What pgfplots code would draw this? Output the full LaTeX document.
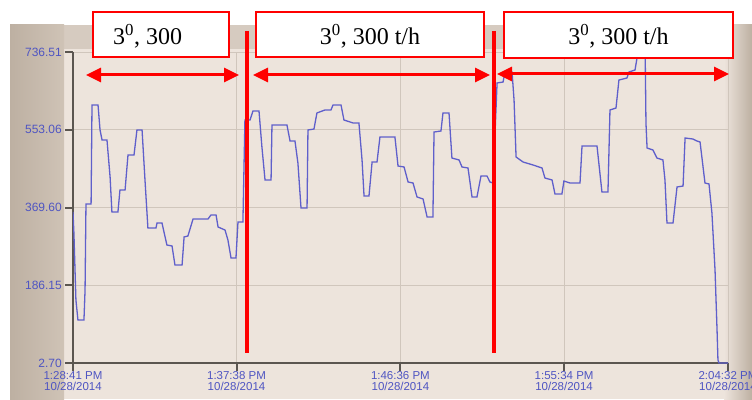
\documentclass[border=0pt]{standalone}
\usepackage{pgfplots}
\pgfplotsset{compat=1.18}
\usepackage{pgfplotstable}
\usepackage{fontspec}
\setmainfont{Liberation Serif}
\newfontfamily\screenfont{Liberation Sans}
\usetikzlibrary{arrows.meta}

\definecolor{photo}{HTML}{DDD2C7}
\definecolor{photodark}{HTML}{BDB0A2}
\definecolor{photomid}{HTML}{CFC3B6}
\definecolor{plotbg}{HTML}{EDE4DC}
\definecolor{topband}{HTML}{D6CBC0}
\definecolor{gridc}{HTML}{D0C6BC}
\definecolor{axisc}{HTML}{5B5650}
\definecolor{ticktext}{HTML}{4F55C2}
\definecolor{trace}{HTML}{5F5FCB}
\definecolor{annot}{HTML}{FF0000}

% flow trace: minutes after 1:28:41 PM, value
\pgfplotstableread{
t v
0.00 359.0
0.05 309.4
0.16 151.4
0.27 104.2
0.60 104.2
0.66 174.9
0.71 377.9
0.99 377.9
1.04 611.4
1.37 611.4
1.48 552.5
1.59 528.9
1.86 528.9
2.03 441.6
2.13 359.0
2.46 359.0
2.57 410.9
2.85 410.9
3.01 493.5
3.34 493.5
3.50 552.5
3.78 552.5
3.94 434.5
4.10 321.2
4.54 321.2
4.60 333.0
4.87 333.0
4.98 311.8
5.14 281.1
5.42 278.8
5.58 233.9
5.97 233.9
6.08 300.0
6.29 302.4
6.57 342.5
7.39 342.5
7.55 351.9
7.83 351.9
7.94 323.6
8.32 316.5
8.48 292.9
8.65 250.4
8.92 250.4
9.03 335.4
9.30 335.4
9.41 576.1
9.69 576.1
9.85 597.3
10.18 597.3
10.34 512.4
10.51 434.5
10.84 434.5
10.89 564.3
11.71 564.3
11.88 526.5
12.15 526.5
12.31 474.6
12.48 368.4
12.81 368.4
12.86 552.5
13.19 554.8
13.35 592.6
13.79 599.7
14.12 599.7
14.23 611.4
14.67 611.4
14.83 576.1
15.33 569.0
15.65 569.0
15.82 481.7
15.93 396.7
16.20 396.7
16.37 477.0
16.64 477.0
16.80 536.0
17.62 536.0
17.79 467.5
18.12 465.2
18.34 429.8
18.61 427.4
18.83 394.4
19.16 389.7
19.38 347.2
19.70 347.2
19.76 547.7
20.14 550.1
20.25 592.6
20.58 592.6
20.74 486.4
21.13 481.7
21.29 465.2
21.62 462.8
21.84 394.4
22.11 394.4
22.33 443.9
22.66 443.9
22.82 429.8
22.99 427.4
23.21 663.4
23.54 665.7
23.64 689.3
24.03 689.3
24.14 623.3
24.25 488.8
24.63 477.0
25.18 469.9
25.67 462.8
25.83 439.2
26.22 434.5
26.38 401.5
26.76 401.5
26.87 432.1
27.20 427.4
27.75 427.4
27.86 514.7
28.68 514.7
28.95 406.2
29.28 406.2
29.39 599.7
29.72 604.4
29.88 670.4
30.32 675.2
30.43 689.3
30.76 694.0
30.87 722.4
31.09 722.4
31.20 760.0
31.31 760.0
31.36 569.0
31.42 510.0
31.74 505.3
31.96 486.4
32.29 481.7
32.40 434.5
32.51 333.0
32.84 333.0
33.06 418.0
33.39 420.3
33.50 533.6
33.93 531.2
34.15 526.5
34.32 524.2
34.59 427.4
34.81 425.1
34.97 356.6
35.14 222.1
35.25 80.6
35.30 9.8
35.36 2.7
35.85 2.7
}\flowdata

\begin{document}
\begin{tikzpicture}[x=1pt,y=1pt]
\path[use as bounding box] (0,0) rectangle (752,399);
\fill[white] (0,0) rectangle (752,399);
% screen surface
\fill[photo] (10,0) rectangle (752,374);
\fill[topband] (64,350) rectangle (726,374);
\fill[plotbg] (64,0) rectangle (726,350);
\shade[left color=photodark, right color=photomid] (10,0) rectangle (64,374);
\shade[left color=plotbg, right color=photodark] (724,0) rectangle (752,374);

\begin{axis}[
  at={(73pt,36pt)}, anchor=south west,
  width=655pt, height=311pt, scale only axis,
  xmin=0, xmax=35.85, ymin=2.70, ymax=736.51,
  axis lines*=left,
  axis line style={-, axisc, line width=2pt},
  tick align=outside, major tick length=8pt,
  tick style={axisc, line width=2pt},
  grid=major, grid style={gridc, line width=0.8pt},
  ytick={2.70,186.15,369.60,553.06,736.51},
  yticklabels={2.70,186.15,369.60,553.06,736.51},
  xtick={0,8.95,17.92,26.88,35.85},
  xticklabels={{1:28:41 PM\\10/28/2014},{1:37:38 PM\\10/28/2014},{1:46:36 PM\\10/28/2014},{1:55:34 PM\\10/28/2014},{2:04:32 PM\\10/28/2014}},
  yticklabel style={font=\screenfont\fontsize{12}{12}\selectfont, text=ticktext, inner xsep=3pt},
  xticklabel style={font=\screenfont\fontsize{11.5}{10.5}\selectfont, text=ticktext, align=center, inner ysep=0.5pt},
]
\addplot[trace, line width=1.3pt, line join=miter] table[x=t, y=v] {\flowdata};
\end{axis}

% section markers
\draw[annot, line width=4pt] (247,368) -- (247,46);
\draw[annot, line width=4pt] (494,368) -- (494,46);

% section spans
\draw[annot, line width=3pt, {Triangle[length=15pt, width=14pt]}-{Triangle[length=15pt, width=14pt]}] (86,324) -- (239,324);
\draw[annot, line width=3pt, {Triangle[length=15pt, width=14pt]}-{Triangle[length=15pt, width=14pt]}] (253,324) -- (490,324);
\draw[annot, line width=3pt, {Triangle[length=15pt, width=14pt]}-{Triangle[length=15pt, width=14pt]}] (497,325) -- (729,325);

% section captions
\draw[annot, fill=white, line width=1.5pt] (93,387) rectangle (229,342);
\draw[annot, fill=white, line width=1.5pt] (256,387) rectangle (484,342);
\draw[annot, fill=white, line width=1.5pt] (504,387) rectangle (733,341);
\node[anchor=base west, inner sep=0pt, font=\fontsize{24}{24}\selectfont] at (113,354) {3\textsuperscript{0}, 300};
\node[anchor=base, inner sep=0pt, font=\fontsize{24}{24}\selectfont] at (370,354) {3\textsuperscript{0}, 300 t/h};
\node[anchor=base, inner sep=0pt, font=\fontsize{24}{24}\selectfont] at (618.5,354) {3\textsuperscript{0}, 300 t/h};
\end{tikzpicture}
\end{document}
